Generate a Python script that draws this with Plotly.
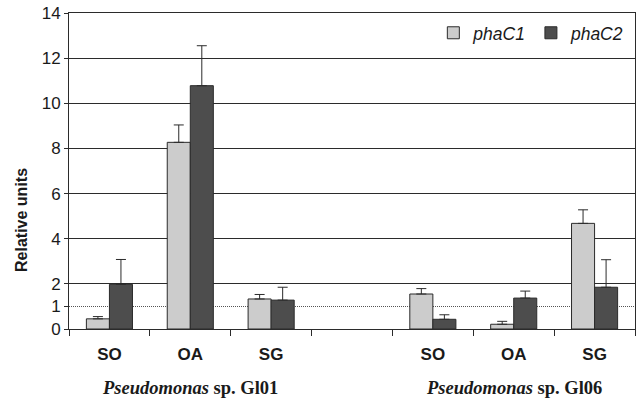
import plotly.graph_objects as go

categories = ["SO", "OA", "SG", "", "SO", "OA", "SG"]
phaC1 = [0.45, 8.27, 1.33, None, 1.55, 0.21, 4.68]
phaC1_err = [0.1, 0.77, 0.2, None, 0.24, 0.13, 0.6]
phaC2 = [1.98, 10.78, 1.28, None, 0.43, 1.37, 1.85]
phaC2_err = [1.1, 1.77, 0.57, None, 0.2, 0.31, 1.22]
y_ticks = [0, 2, 4, 6, 8, 10, 12, 14]
groups = ["<i>Pseudomonas</i> sp. Gl01", "<i>Pseudomonas</i> sp. Gl06"]
group_pos = [1, 5]

xpos = list(range(len(categories)))
line_col = "#2b2b2b"
SANS = "Liberation Sans"
SERIF = "Liberation Serif"

fig = go.Figure()
fig.add_trace(go.Bar(
    x=xpos, y=phaC1, name="<i>phaC1</i>",
    marker=dict(color="#cccccc", line=dict(color=line_col, width=1)),
    error_y=dict(type="data", array=phaC1_err, arrayminus=[0] * 7, symmetric=False,
                 color=line_col, thickness=1, width=5),
))
fig.add_trace(go.Bar(
    x=xpos, y=phaC2, name="<i>phaC2</i>",
    marker=dict(color="#4d4d4d", line=dict(color=line_col, width=1)),
    error_y=dict(type="data", array=phaC2_err, arrayminus=[0] * 7, symmetric=False,
                 color=line_col, thickness=1, width=5),
))
# invisible trace to activate y2 (dotted reference line at 1)
fig.add_trace(go.Scatter(x=[0], y=[None], yaxis="y2", showlegend=False, hoverinfo="skip"))

fig.update_layout(
    width=640, height=404,
    template="none",
    margin=dict(l=69, r=5, t=13, b=75, autoexpand=False),
    plot_bgcolor="white", paper_bgcolor="white",
    barmode="group", bargap=0.43, bargroupgap=0,
    font=dict(family=SANS, size=16, color="#1a1a1a"),
    showlegend=True,
    legend=dict(orientation="h", x=0.99, y=0.994, xanchor="right", yanchor="top",
                font=dict(family=SANS, size=17.5), bgcolor="rgba(0,0,0,0)",
                tracegroupgap=0, itemwidth=30),
    xaxis=dict(
        range=[-0.5, 6.5], tickmode="array", tickvals=xpos, ticktext=categories,
        ticks="", showline=True, linecolor=line_col, linewidth=1, mirror=True,
        showgrid=False, zeroline=False, ticklabelstandoff=10, automargin=False,
        tickfont=dict(family=SANS, size=17, color="#1a1a1a", weight="bold"),
        minor=dict(tickmode="linear", tick0=-0.5, dtick=1, ticks="outside", ticklen=6,
                   tickcolor=line_col, showgrid=False),
    ),
    yaxis=dict(
        range=[0, 14], tickmode="array", tickvals=y_ticks, ticks="outside", ticklen=4,
        tickcolor=line_col, showline=True, linecolor=line_col, linewidth=1, mirror=True,
        showgrid=True, gridcolor=line_col, gridwidth=1, zeroline=False, automargin=False,
        tickfont=dict(family=SANS, size=17), ticklabeloverflow="allow",
    ),
    yaxis2=dict(
        range=[0, 14], overlaying="y", side="left", tickmode="array", tickvals=[1],
        ticktext=["1"], ticks="outside", ticklen=4, tickcolor=line_col,
        showgrid=True, gridcolor="#555555", gridwidth=1, griddash="1px,1px",
        zeroline=False, showline=False, automargin=False, tickfont=dict(family=SANS, size=17),
    ),
)

fig.add_annotation(
    text="<b>Relative units</b>", textangle=-90, xref="paper", yref="paper",
    x=0, y=0.345, xanchor="center", yanchor="middle", xshift=-47, showarrow=False,
    font=dict(family=SANS, size=16, color="#1a1a1a"),
)
for g, p in zip(groups, group_pos):
    fig.add_annotation(
        text="<b>" + g + "</b>", xref="x", yref="paper", x=p, y=0, yshift=-59,
        xanchor="center", yanchor="middle", showarrow=False,
        font=dict(family=SERIF, size=18.5, color="#1a1a1a"),
    )

fig.write_html("out.html", config={"displayModeBar": False},
               post_script="document.body.style.margin='0';document.body.style.overflow='hidden';")
